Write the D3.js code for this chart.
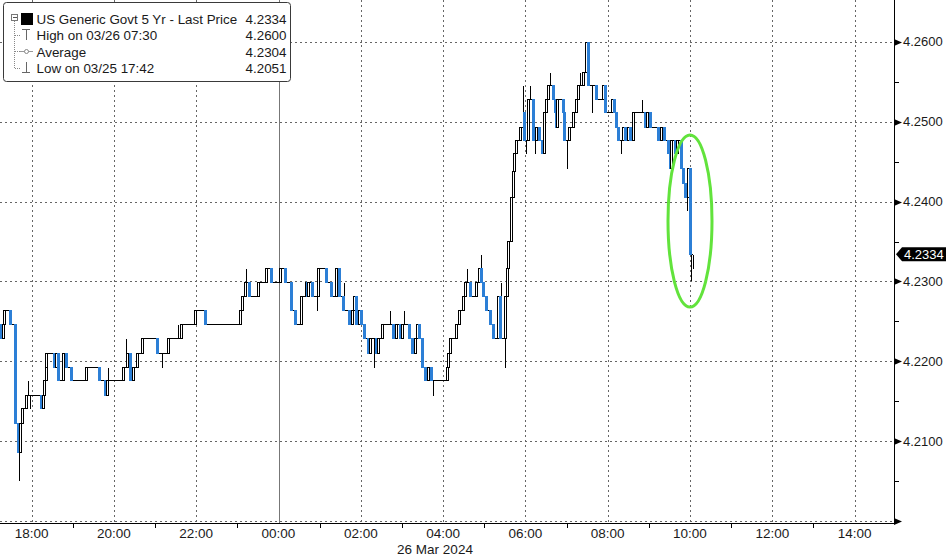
<!DOCTYPE html>
<html><head><meta charset="utf-8">
<script src="https://cdn.jsdelivr.net/npm/d3@7"></script>
<style>
html,body{margin:0;padding:0;background:#fff;}
svg{display:block;}
text{font-family:"Liberation Sans",Arial,sans-serif;}
</style>
</head><body>
<svg id="chart" width="946" height="555"></svg>
<script>
// ---- data ----
const times = ["17:14","17:17","17:20","17:21","17:30","17:37","17:41","17:45","17:48","17:53",
"18:15","18:18","18:20","18:22","18:23","18:34","18:37","18:40","18:47","18:52","18:59",
"19:21","19:39","19:48","19:52","20:15","20:20","20:25","20:29","20:35","20:43",
"21:04","21:20","21:40","22:00","22:14","23:05","23:08","23:13","23:18","23:32","23:43","23:51",
"00:03","00:11","00:20","00:26","00:34","00:41","00:43","00:45","00:51","00:59",
"01:11","01:18","01:25","01:30","01:36","01:44","01:49","01:52","01:55","01:59",
"02:02","02:06","02:12","02:15","02:24","02:26","02:33","02:49","02:53","02:59",
"03:02","03:12","03:16","03:20","03:23","03:26","03:31","03:35","03:39","03:44",
"04:07","04:09","04:12","04:20","04:25","04:30","04:33","04:41","04:49","04:54","04:57",
"05:00","05:04","05:10","05:14","05:22","05:24","05:32","05:34","05:36","05:40","05:43","05:45","05:48","05:54","05:59",
"06:00","06:05","06:13","06:17","06:22","06:26","06:29","06:32","06:35","06:41","06:44","06:46","06:48","06:57","06:58",
"07:05","07:11","07:15","07:18","07:25","07:30","07:33","07:44","07:54","07:57",
"08:08","08:10","08:13","08:16","08:24","08:27","08:31","08:34","08:38","08:56","08:59",
"09:03","09:15","09:19","09:24","09:29","09:32","09:34","09:40","09:42","09:48","09:51","09:54","09:58",
"10:01","10:05"];
const closes = [4.2247,4.2229,4.2247,4.2264,4.2247,4.2123,4.2087,4.2123,4.2141,4.2158,
4.2141,4.2158,4.2176,4.2193,4.2211,4.2193,4.2211,4.2176,4.2211,4.2193,4.2176,
4.2193,4.2176,4.2158,4.2176,4.2193,4.2211,4.2176,4.2193,4.2211,4.2229,
4.2211,4.2229,4.2247,4.2264,4.2247,4.2264,4.2282,4.2299,4.2282,4.2299,4.2317,4.2299,
4.2317,4.2299,4.2264,4.2247,4.2282,4.2299,4.2282,4.2299,4.2282,4.2317,
4.2299,4.2282,4.2317,4.2282,4.2264,4.2247,4.2264,4.2282,4.2247,4.2264,
4.2247,4.2229,4.2211,4.2229,4.2211,4.2229,4.2247,4.2229,4.2247,4.2229,
4.2247,4.2229,4.2211,4.2229,4.2247,4.2229,4.2193,4.2176,4.2193,4.2176,
4.2193,4.2211,4.2229,4.2247,4.2264,4.2282,4.2299,4.2282,4.2299,4.2317,4.2299,
4.2282,4.2264,4.2247,4.2229,4.2282,4.2229,4.2282,4.2317,4.2351,4.2406,4.2439,4.2461,4.2477,4.2493,4.2512,
4.2477,4.2529,4.2477,4.2493,4.2477,4.2461,4.2512,4.2529,4.2546,4.2529,4.2512,4.2493,4.2529,4.2512,4.2477,
4.2493,4.2512,4.2529,4.2546,4.2562,4.2600,4.2546,4.2529,4.2546,4.2512,
4.2529,4.2512,4.2493,4.2477,4.2493,4.2477,4.2493,4.2477,4.2512,4.2493,4.2512,
4.2493,4.2477,4.2493,4.2477,4.2461,4.2442,4.2477,4.2461,4.2477,4.2442,4.2423,4.2406,4.2442,
4.2334,4.2334];
const wickTimes = ["17:42","17:55","17:58","19:51","20:17","21:10","21:33","23:13","00:56","01:36",
"02:19","02:42","03:03","03:46","04:35","04:52","04:55","05:25","05:30","05:56","06:01","06:06",
"06:14","06:36","07:00","07:20","07:37","08:19","08:50","09:56","10:02","10:05"];
const wickValues = [4.2051,4.2176,4.2141,4.2193,4.2229,4.2193,4.2247,4.2317,4.2264,4.2299,
4.2193,4.2264,4.2264,4.2158,4.2317,4.2317,4.2334,4.2299,4.2193,4.2546,4.2461,4.2546,
4.2461,4.2562,4.2442,4.2562,4.2512,4.2461,4.2529,4.2389,4.2302,4.2317];
const yMajorTicks = [4.20,4.21,4.22,4.23,4.24,4.25,4.26];
const yMinorTicks = [4.205,4.215,4.225,4.235,4.245,4.255];
const legendLabels = ["US Generic Govt 5 Yr - Last Price","High on 03/26 07:30","Average","Low on 03/25 17:42"];
const legendValues = ["4.2334","4.2600","4.2304","4.2051"];
const lastPrice = 4.2334;
const dateLabel = "26 Mar 2024";

// ---- helpers ----
function parseT(s){
  const [h,m] = s.split(":").map(Number);
  return new Date(2024, 2, h >= 17 ? 25 : 26, h, m);
}
const midnight = new Date(2024,2,26,0,0);
const addMin = (d,m) => new Date(d.getTime() + m*60000);

const W = 946, H = 555;
const plotR = 894, plotB = 521, axisY = 523;

const x = d3.scaleTime()
  .domain([addMin(midnight,-406.08), addMin(midnight,897.45)])
  .range([0, plotR]);
const y = d3.scaleLinear()
  .domain([4.20, 4.26526])
  .range([plotB, 0]);

const svg = d3.select("#chart");
svg.append("rect").attr("width",W).attr("height",H).attr("fill","#fff");

const cx = v => Math.round(v) + 0.5;

// ---- gridlines ----
const grid = svg.append("g").attr("shape-rendering","crispEdges");
grid.selectAll("line.h").data(yMajorTicks).join("line")
  .attr("x1",0).attr("x2",plotR).attr("y1",d=>cx(y(d))).attr("y2",d=>cx(y(d)))
  .attr("stroke","#666").attr("stroke-dasharray","2,3");
const evenHours = x.ticks(d3.timeHour.every(2));
const oddHours = x.ticks(d3.timeHour.every(1)).filter(d => d.getHours() % 2 === 1);
grid.selectAll("line.v").data(evenHours).join("line")
  .attr("x1",d=>cx(x(d))).attr("x2",d=>cx(x(d))).attr("y1",0).attr("y2",axisY)
  .attr("stroke", d => d.getHours()===0 ? "#777" : "#666")
  .attr("stroke-dasharray", d => d.getHours()===0 ? null : "2,3");

// ---- series ----
const pts = times.map((t,i)=>({t:parseT(t), v:closes[i]}));
const line = d3.line().x(d=>cx(x(d.t))-1).y(d=>cx(y(d.v))).curve(d3.curveStepAfter);
const gS = svg.append("g").attr("shape-rendering","crispEdges");
gS.append("path").datum(pts).attr("d",line).attr("fill","none").attr("stroke","#000").attr("stroke-width",1);

// wicks
const bis = d3.bisector(d=>d.t).right;
const wicks = wickTimes.map((t,i)=>{
  const tt = parseT(t);
  const idx = Math.max(0, bis(pts, tt)-1);
  return {t:tt, base:pts[idx].v, v:wickValues[i]};
});
gS.selectAll("line.w").data(wicks).join("line")
  .attr("x1",d=>cx(x(d.t))).attr("x2",d=>cx(x(d.t)))
  .attr("y1",d=>cx(y(d.base))).attr("y2",d=>cx(y(d.v)))
  .attr("stroke","#000");

// candles
const bars = pts.slice(1).map((d,i)=>({t:d.t, o:pts[i].v, c:d.v}));
gS.selectAll("rect.c").data(bars.filter(b=>b.c!==b.o)).join("rect")
  .attr("x", d => Math.round(x(d.t)) - 1.5)
  .attr("width", 2)
  .attr("y", d => cx(y(Math.max(d.o,d.c))))
  .attr("height", d => Math.abs(Math.round(y(d.o)) - Math.round(y(d.c))))
  .attr("fill", d => d.c > d.o ? "#fff" : "#2c7fd6")
  .attr("stroke", d => d.c > d.o ? "#000" : "#2c7fd6")
  .attr("stroke-width",1);

// ---- annotation ellipse ----
svg.append("ellipse").attr("cx",690).attr("cy",221).attr("rx",22).attr("ry",86)
  .attr("fill","none").attr("stroke","#62e33c").attr("stroke-width",3);

// ---- right axis ----
const gA = svg.append("g");
gA.append("line").attr("x1",plotR+0.5).attr("x2",plotR+0.5).attr("y1",0).attr("y2",axisY)
  .attr("stroke","#000").attr("shape-rendering","crispEdges");
gA.selectAll("line.mn").data(yMinorTicks).join("line")
  .attr("x1",plotR).attr("x2",plotR+5).attr("y1",d=>cx(y(d))).attr("y2",d=>cx(y(d)))
  .attr("stroke","#000").attr("shape-rendering","crispEdges");
gA.selectAll("path.tri").data(yMajorTicks).join("path")
  .attr("d", d => { const yy = cx(y(d)); return `M${plotR},${yy-3.5}L${plotR+8},${yy}L${plotR},${yy+3.5}Z`; })
  .attr("fill","#000");
gA.selectAll("text.yl").data(yMajorTicks.filter(d=>d>4.2001)).join("text")
  .attr("x",plotR+9).attr("y",d=>y(d)+4.5)
  .attr("font-size","13px").attr("fill","#1a1a1a")
  .text(d=>d.toFixed(4));
// last price tag
const ly = y(lastPrice);
gA.append("path")
  .attr("d",`M${plotR+2},${ly}L${plotR+8},${ly-7}L946,${ly-7}L946,${ly+7}L${plotR+8},${ly+7}Z`)
  .attr("fill","#000");
gA.append("text").attr("x",plotR+10).attr("y",ly+4.5)
  .attr("font-size","13px").attr("fill","#fff").text(lastPrice.toFixed(4));

// ---- bottom axis ----
const gX = svg.append("g");
gX.append("line").attr("x1",0).attr("x2",plotR).attr("y1",axisY+0.5).attr("y2",axisY+0.5)
  .attr("stroke","#000").attr("shape-rendering","crispEdges");
gX.selectAll("line.xt").data(oddHours).join("line")
  .attr("x1",d=>cx(x(d))).attr("x2",d=>cx(x(d))).attr("y1",axisY).attr("y2",axisY+5)
  .attr("stroke","#000").attr("shape-rendering","crispEdges");
const fmt = d3.timeFormat("%H:%M");
gX.selectAll("text.xl").data(evenHours).join("text")
  .attr("x",d=>x(d)).attr("y",537.5).attr("text-anchor","middle")
  .attr("font-size","13.5px").attr("fill","#1a1a1a").text(d=>fmt(d));
gX.append("text").attr("x",435).attr("y",553.5).attr("text-anchor","middle")
  .attr("font-size","13.5px").attr("fill","#1a1a1a").text(dateLabel);

// ---- legend ----
const gL = svg.append("g");
gL.append("rect").attr("x",3.5).attr("y",2.5).attr("width",287).attr("height",79).attr("rx",3)
  .attr("fill","#fff").attr("stroke","#3a3a3a");
// tree lines
gL.append("path").attr("d","M14.5,21V68.5M14.5,35.5H20M14.5,51.5H20M14.5,68.5H20")
  .attr("stroke","#888").attr("fill","none").attr("stroke-dasharray","1,1").attr("shape-rendering","crispEdges");
gL.append("rect").attr("x",11.5).attr("y",14.5).attr("width",6).attr("height",6)
  .attr("fill","#fff").attr("stroke","#777").attr("shape-rendering","crispEdges");
gL.append("line").attr("x1",13).attr("x2",17).attr("y1",17.5).attr("y2",17.5).attr("stroke","#555").attr("shape-rendering","crispEdges");
gL.append("rect").attr("x",21).attr("y",13).attr("width",12).attr("height",12).attr("fill","#000");
// high icon
gL.append("path").attr("d","M22,29.5H30M26.5,29.5V40").attr("stroke","#666").attr("fill","none").attr("shape-rendering","crispEdges");
// average icon
gL.append("path").attr("d","M20,51.5H33").attr("stroke","#999").attr("fill","none");
gL.append("circle").attr("cx",26.5).attr("cy",51.5).attr("r",2).attr("fill","#fff").attr("stroke","#888");
// low icon
gL.append("path").attr("d","M26.5,62V72.5M22,72.5H30").attr("stroke","#666").attr("fill","none").attr("shape-rendering","crispEdges");
const rowY = [24, 40, 56.5, 72.5];
gL.selectAll("text.ll").data(legendLabels).join("text")
  .attr("x",36.5).attr("y",(d,i)=>rowY[i]).attr("font-size","13.4px").attr("fill","#1a1a1a").text(d=>d);
gL.selectAll("text.lv").data(legendValues).join("text")
  .attr("x",286.5).attr("y",(d,i)=>rowY[i]).attr("text-anchor","end")
  .attr("font-size","13.4px").attr("fill","#1a1a1a").text(d=>d);
</script>
</body></html>
